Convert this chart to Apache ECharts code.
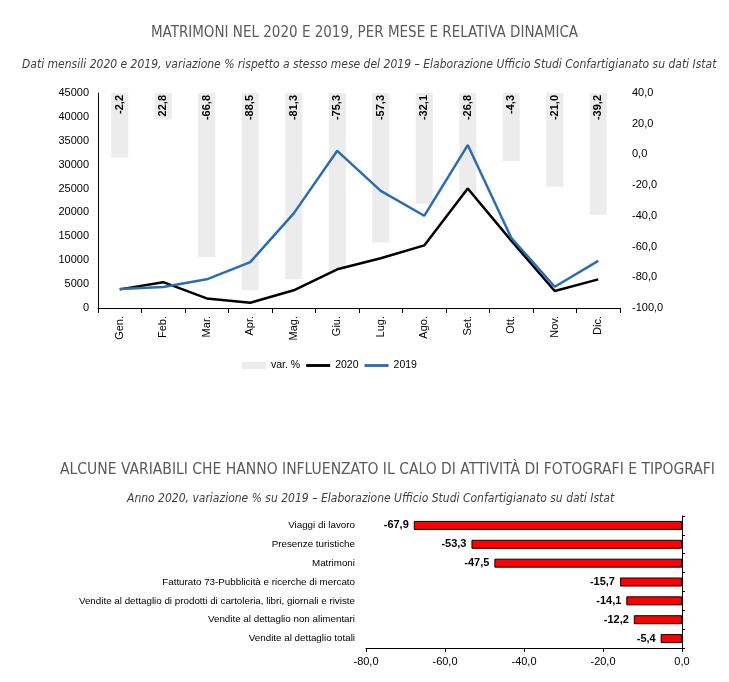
<!DOCTYPE html>
<html><head><meta charset="utf-8">
<script src="https://cdn.jsdelivr.net/npm/echarts@6/dist/echarts.min.js"></script>
<style>html,body{margin:0;padding:0;background:#fff}#c{width:729px;height:682px}</style>
</head><body><div id="c"></div>
<script>
// ---- Data: top chart ----
const months = ['Gen.','Feb.','Mar.','Apr.','Mag.','Giu.','Lug.','Ago.','Set.','Ott.','Nov.','Dic.'];
const varPct = [-2.2, 22.8, -66.8, -88.5, -81.3, -75.3, -57.3, -32.1, -26.8, -4.3, -21.0, -39.2];
const matr2020 = [3900, 5400, 2000, 1100, 3700, 8100, 10400, 13100, 25000, 14100, 3550, 6000];
const matr2019 = [4000, 4400, 6000, 9600, 19800, 32900, 24500, 19300, 34100, 14700, 4450, 9850];
const leftAxis = {min: 0, max: 45000, interval: 5000};
const rightAxis = {min: -100, max: 40, interval: 20};
// ---- Data: bottom chart ----
const variabili = ['Viaggi di lavoro','Presenze turistiche','Matrimoni','Fatturato 73-Pubblicità e ricerche di mercato','Vendite al dettaglio di prodotti di cartoleria, libri, giornali e riviste','Vendite al dettaglio non alimentari','Vendite al dettaglio totali'];
const variazioni = [-67.9, -53.3, -47.5, -15.7, -14.1, -12.2, -5.4];
const bottomAxis = {min: -80, max: 0, interval: 20};

const comma = v => Number(v).toFixed(1).replace('.', ',');
const TF = '"Liberation Sans Narrow", "DejaVu Sans Condensed", sans-serif';
const AF = '"Liberation Sans", Arial, sans-serif';
const lineIcon = 'path://M0,0 L25,0 L25,3 L0,3 Z';

const chart = echarts.init(document.getElementById('c'), null, {renderer: 'canvas'});
chart.setOption({
  animation: false,
  backgroundColor: '#fff',
  textStyle: {fontFamily: AF},
  title: [
    {text: 'MATRIMONI NEL 2020 E 2019, PER MESE E RELATIVA DINAMICA', left: 'center', top: 21,
     textStyle: {fontFamily: TF, fontSize: 15, fontWeight: 'normal', color: '#5a5a5a'}},
    {text: 'Dati mensili 2020 e 2019, variazione % rispetto a stesso mese del 2019 – Elaborazione Ufficio Studi Confartigianato su dati Istat', left: 17, top: 54,
     textStyle: {fontFamily: TF, fontSize: 12, fontStyle: 'italic', fontWeight: 'normal', color: '#404040'}},
    {text: 'ALCUNE VARIABILI CHE HANNO INFLUENZATO IL CALO DI ATTIVITÀ DI FOTOGRAFI E TIPOGRAFI', left: 55, top: 457,
     textStyle: {fontFamily: TF, fontSize: 15.5, fontWeight: 'normal', color: '#5a5a5a'}},
    {text: 'Anno 2020, variazione % su 2019 – Elaborazione Ufficio Studi Confartigianato su dati Istat', left: 122, top: 488,
     textStyle: {fontFamily: TF, fontSize: 12, fontStyle: 'italic', fontWeight: 'normal', color: '#404040'}}
  ],
  legend: {
    top: 355, left: 237, itemGap: 6, itemWidth: 24, itemHeight: 7, symbolKeepAspect: true,
    textStyle: {fontFamily: AF, fontSize: 10.5, color: '#000'},
    data: [{name: 'var. %', icon: 'rect'}, {name: '2020', icon: lineIcon}, {name: '2019', icon: lineIcon}]
  },
  grid: [
    {left: 98, top: 93, width: 522, height: 215, containLabel: false},
    {left: 366, top: 516, width: 316, height: 132, containLabel: false}
  ],
  xAxis: [
    {type: 'category', gridIndex: 0, data: months, boundaryGap: true,
     axisLine: {lineStyle: {color: '#000', width: 1}},
     axisTick: {show: true, length: 5, lineStyle: {color: '#000'}},
     axisLabel: {rotate: 90, fontSize: 11, color: '#000', margin: 8, fontFamily: AF}},
    {type: 'value', gridIndex: 1, min: bottomAxis.min, max: bottomAxis.max, interval: bottomAxis.interval,
     axisLine: {show: true, lineStyle: {color: '#000', width: 1}},
     axisTick: {show: true, length: 4, lineStyle: {color: '#000'}},
     splitLine: {show: false},
     axisLabel: {formatter: comma, fontSize: 11, color: '#000', margin: 8, fontFamily: AF}}
  ],
  yAxis: [
    {type: 'value', gridIndex: 0, position: 'left', min: leftAxis.min, max: leftAxis.max, interval: leftAxis.interval,
     axisLine: {show: true, lineStyle: {color: '#000', width: 1}},
     axisTick: {show: false}, splitLine: {show: false},
     axisLabel: {formatter: v => String(v), fontSize: 11, color: '#000', margin: 9, fontFamily: AF}},
    {type: 'value', gridIndex: 0, position: 'right', min: rightAxis.min, max: rightAxis.max, interval: rightAxis.interval,
     axisLine: {show: false}, axisTick: {show: false}, splitLine: {show: false},
     axisLabel: {formatter: comma, fontSize: 11, color: '#000', margin: 12, fontFamily: AF}},
    {type: 'value', gridIndex: 0, show: false, inverse: true, min: 0, max: rightAxis.max - rightAxis.min, splitLine: {show: false}},
    {type: 'category', gridIndex: 1, position: 'left', inverse: true, data: variabili,
     axisLine: {show: false}, axisTick: {show: false},
     axisLabel: {fontSize: 9.8, color: '#000', margin: 11, fontFamily: AF}},
    {type: 'category', gridIndex: 1, position: 'right', inverse: true, data: variabili,
     axisLine: {show: true, lineStyle: {color: '#000', width: 1}},
     axisTick: {show: true, length: 3, lineStyle: {color: '#000'}},
     axisLabel: {show: false}}
  ],
  series: [
    {name: 'var. %', type: 'bar', xAxisIndex: 0, yAxisIndex: 2, barWidth: 17, z: 1,
     itemStyle: {color: '#ececec'},
     data: varPct.map(v => rightAxis.max - v),
     label: {show: true, position: 'insideTop', distance: 2, rotate: 90, align: 'right', verticalAlign: 'middle',
             fontSize: 11, fontWeight: 'bold', color: '#000', fontFamily: AF,
             formatter: p => comma(varPct[p.dataIndex])}},
    {name: '2020', type: 'line', xAxisIndex: 0, yAxisIndex: 0, data: matr2020, symbol: 'none', showSymbol: false, z: 3,
     lineStyle: {color: '#000', width: 2.5}, itemStyle: {color: '#000'}},
    {name: '2019', type: 'line', xAxisIndex: 0, yAxisIndex: 0, data: matr2019, symbol: 'none', showSymbol: false, z: 4,
     lineStyle: {color: '#2a6db3', width: 2.5}, itemStyle: {color: '#2a6db3'}},
    {name: 'Variazione', type: 'bar', xAxisIndex: 1, yAxisIndex: 3, barWidth: 9,
     itemStyle: {color: '#ff0000', borderColor: '#000', borderWidth: 1},
     data: variazioni,
     label: {show: true, position: 'left', distance: 5, fontSize: 11, fontWeight: 'bold', color: '#000', fontFamily: AF,
             formatter: p => comma(p.value)}}
  ]
});
</script></body></html>
